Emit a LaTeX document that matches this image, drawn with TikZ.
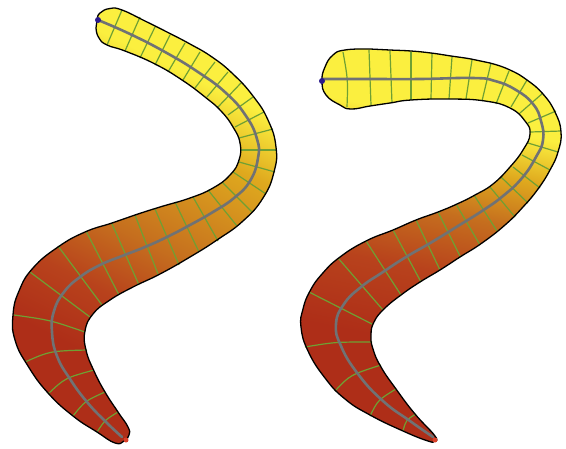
\documentclass[tikz,border=0pt]{standalone}
\definecolor{wormgreen}{HTML}{6FA033}
\definecolor{wormgray}{HTML}{707274}
\definecolor{wormblue}{HTML}{2A1A8C}
\definecolor{wormred}{HTML}{D8402A}
\definecolor{fillyellow}{RGB}{251,239,63}
\definecolor{fillgold}{RGB}{223,169,30}
\definecolor{fillorange}{RGB}{197,110,30}
\definecolor{fillrust}{RGB}{184,66,28}
\definecolor{fillred}{RGB}{174,46,24}
\pgfdeclareverticalshading{leftfill}{100bp}{
  color(0bp)=(fillyellow);
  color(42.4bp)=(fillyellow);
  color(47.6bp)=(fillgold);
  color(56.5bp)=(fillorange);
  color(61.7bp)=(fillrust);
  color(67bp)=(fillred);
  color(100bp)=(fillred)}
\pgfdeclareverticalshading{rightfill}{100bp}{
  color(0bp)=(fillyellow);
  color(41.2bp)=(fillyellow);
  color(44.9bp)=(fillgold);
  color(48.9bp)=(fillorange);
  color(53.8bp)=(fillrust);
  color(60bp)=(fillred);
  color(100bp)=(fillred)}
\tikzset{
  rib/.style={wormgreen,line width=1.2pt},
  spine/.style={wormgray,line width=2.6pt,line cap=round},
  rim/.style={black,line width=1.3pt},
}
\newcommand{\leftworm}{plot[smooth cycle,tension=0.8] coordinates {
  (100,13) (110,8.5) (122,10) (145,21) (167,32) (190,44) (212,57) (233,74) (253,96)
  (268,120) (276,147) (274,172) (263,198) (243,221) (217,240) (190,257) (160,274) (133,287)
  (110,300) (93,314) (85,331) (86,350) (94,371) (105,392) (118,412) (128,427)
  (129,435) (124,441) (115,443) (97,432) (73,416) (48,393) (28,366) (15,340) (13,315)
  (19,291) (33,268) (58,247) (85,232) (112,223) (135,215) (160,207) (190,198) (213,188)
  (230,175) (239,160) (240,143) (233,127) (221,111) (205,97) (182,80) (155,64) (125,51)
  (107,45) (99,38) (96,28) (97,20)}}
\newcommand{\rightworm}{plot[smooth cycle,tension=0.8] coordinates {
  (322,81) (325,67) (333,55) (345,50) (370,49) (390,50) (411,51) (431,53) (451,56) (471,59)
  (490,63) (510,70) (527,80) (543,94) (555,112) (561,132) (558,152) (550,170) (538,189)
  (523,207) (505,225) (482,243) (460,257) (440,270) (420,282) (401,295) (384,309) (374,322)
  (371,335) (373,349) (381,367) (396,389) (415,414) (435,436) (434,441) (428,441) (403,431)
  (370,415) (345,399) (325,378) (308,351) (301,327) (303,309) (310,291) (322,274) (340,257)
  (366,241) (393,230) (416,220) (438,212) (457,204) (475,195) (493,184) (510,167) (523,150)
  (530,134) (525,121) (510,108) (485,101) (450,99) (411,100) (390,103) (370,106) (351,109)
  (340,105) (326,95)}}
\begin{document}
\begin{tikzpicture}[x=1pt,y=-1pt]
\useasboundingbox (0,0) rectangle (566,448);
% left worm
\begin{scope}
\clip \leftworm;
\shade[shading=leftfill,shading angle=153.4] (-17,-76) rectangle (583,524);
\end{scope}
\foreach \xa/\ya/\xb/\yb in {122/10/107/45,140/17/125/51,155/27/140/58,170/35/155/65,
  185/43/168/72,200/52/183/80,215/62/195/88,228/72/207/97,241/83/218/107,
  253/97/228/115,264/112/235/127,273/129/239/138,277/150/240/150,
  275/172/239/162,266/194/233/172,252/212/222/182,237/226/208/190,
  218/241/193/197,199/252/175/202,179/265/155/209,158/274/135/215,
  139/285/112/224,119/295/86/231,102/305/58/246,90/317/30/272}
  \draw[rib] (\xa,\ya) -- (\xb,\yb);
\draw[rib] (14,315) .. controls (50,320) .. (85,332);
\draw[rib] (25,362) .. controls (50,351) .. (87,350);
\draw[rib] (48,394) .. controls (65,378) .. (94,370);
\draw[rib] (73,416) .. controls (85,401) .. (105,392);
\draw[rib] (97,432) .. controls (105,420) .. (118,412);
\draw[spine] plot[smooth,tension=0.8] coordinates {(98,20) (130,34) (165,52) (198,72) (226,93)
  (246,116) (257,139) (258,158) (250,181) (234,198) (213,212) (190,225) (167,237) (145,247)
  (122,256) (100,265) (80,277) (64,292) (54,311) (52,332) (57,356) (70,379) (87,402) (106,422) (122,437)};
\draw[rim] \leftworm;
\fill[wormblue] (98,20) circle (3pt);
\fill[wormred] (126,440) circle (2.5pt);
% right worm
\begin{scope}
\clip \rightworm;
\shade[shading=rightfill,shading angle=168.7] (130,-76) rectangle (730,524);
\end{scope}
\foreach \xa/\ya/\xb/\yb in {369/50/371/105,390/51/392/103,411/52/411/100,432/53/431/99,
  452/57/449/99,472/60/466/99,491/63/482/101,509/71/496/104,527/80/511/107,
  543/93/520/113,556/111/528/123,561/131/530/132,558/152/528/143,
  550/170/522/155,540/188/513/167,528/203/501/177,515/217/490/187,
  497/231/474/195,480/245/456/204,460/256/438/212,440/270/416/220,
  421/282/393/230,401/295/366/241,383/310/338/258,372/324/309/292}
  \draw[rib] (\xa,\ya) -- (\xb,\yb);
\draw[rib] (343,52) .. controls (348,80) .. (347,107);
\draw[rib] (305,347) .. controls (335,342) .. (372,342);
\draw[rib] (335,391) .. controls (350,375) .. (381,365);
\draw[rib] (370,416) .. controls (378,400) .. (396,389);
\draw[rib] (403,431) .. controls (406,420) .. (416,414);
\draw[spine] plot[smooth,tension=0.8] coordinates {(322,79) (370,79) (420,79) (473,78) (495,81) (516,90) (533,104)
  (541,121) (543,140) (536,157) (522,178) (503,196) (482,211) (458,226) (432,242) (406,257)
  (383,272) (361,287) (344,304) (336,324) (341,346) (358,374) (383,401) (410,421) (433,437)};
\draw[rim] \rightworm;
\fill[wormblue] (322,81) circle (3pt);
\fill[wormred] (435,440) circle (2.5pt);
\end{tikzpicture}
\end{document}
